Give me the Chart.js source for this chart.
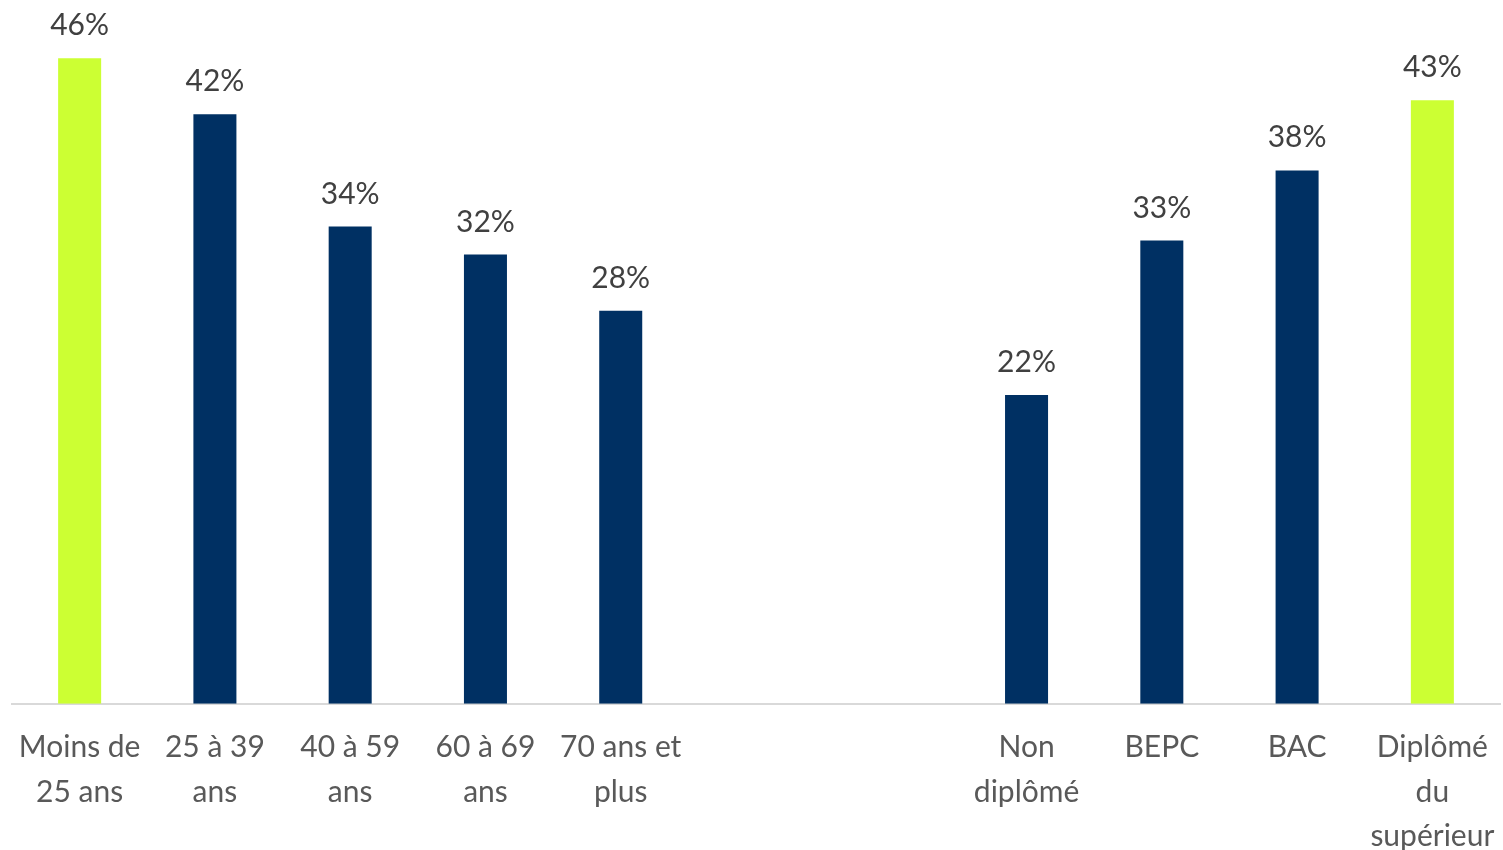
<!DOCTYPE html>
<html>
<head>
<meta charset="utf-8">
<script src="https://cdn.jsdelivr.net/npm/chart.js@4/dist/chart.umd.min.js"></script>
<style>
  html, body { margin: 0; padding: 0; background: #fff; overflow: hidden; }
  #wrap { position: relative; width: 1503px; height: 880px; }
</style>
</head>
<body>
<div id="wrap"><canvas id="c"></canvas></div>
<script>
const categories = [
  ["Moins de", "25 ans"],
  ["25 à 39", "ans"],
  ["40 à 59", "ans"],
  ["60 à 69", "ans"],
  ["70 ans et", "plus"],
  "",
  "",
  ["Non", "diplômé"],
  "BEPC",
  "BAC",
  ["Diplômé", "du", "supérieur"]
];
const values = [46, 42, 34, 32, 28, null, null, 22, 33, 38, 43];
const highlighted = [true, false, false, false, false, false, false, false, false, false, true];

const GREEN = '#CCFF33';
const NAVY = '#003063';

const valueLabels = {
  id: 'valueLabels',
  afterDatasetsDraw(chart) {
    const ctx = chart.ctx;
    const meta = chart.getDatasetMeta(0);
    ctx.save();
    ctx.font = '30px Lato, "Open Sans", sans-serif';
    ctx.fillStyle = '#404040';
    ctx.textAlign = 'center';
    ctx.textBaseline = 'alphabetic';
    meta.data.forEach((bar, i) => {
      const v = values[i];
      if (v === null || v === undefined) return;
      ctx.fillText(v + '%', bar.x, bar.y - 23);
    });
    ctx.restore();
  }
};

new Chart(document.getElementById('c'), {
  type: 'bar',
  data: {
    labels: categories,
    datasets: [{
      data: values,
      backgroundColor: highlighted.map(h => h ? GREEN : NAVY),
      borderWidth: 0,
      barPercentage: 0.318,
      categoryPercentage: 1
    }]
  },
  options: {
    responsive: true,
    maintainAspectRatio: false,
    animation: false,
    layout: { autoPadding: false, padding: { left: 12, right: 3, top: 2, bottom: 0 } },
    plugins: { legend: { display: false }, tooltip: { enabled: false } },
    scales: {
      x: {
        afterFit(scale) { scale.paddingLeft = 0; scale.paddingRight = 0; },
        grid: { display: false, drawTicks: false },
        border: { display: true, color: '#D9D9D9', width: 2 },
        ticks: {
          color: '#595959',
          font: { family: 'Lato, "Open Sans", sans-serif', size: 30, lineHeight: 1.47 },
          padding: 22,
          maxRotation: 0,
          autoSkip: false
        }
      },
      y: {
        display: false,
        min: 0,
        max: 50
      }
    }
  },
  plugins: [valueLabels]
});
</script>
</body>
</html>
